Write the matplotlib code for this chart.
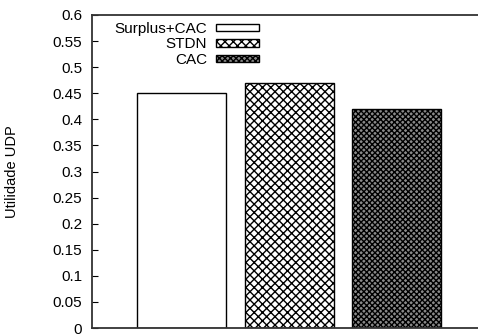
import numpy as np
import matplotlib
matplotlib.use('Agg')
import matplotlib.pyplot as plt

plt.rcParams['font.family'] = ['Liberation Sans', 'DejaVu Sans']
plt.rcParams['hatch.linewidth'] = 1.0

labels = ["Surplus+CAC", "STDN", "CAC"]
values = [0.45, 0.47, 0.42]
hatches = ["", "xxxx", "xxxxxx"]
faces = ["white", "white", "#8a8a8a"]

fig = plt.figure(figsize=(4.78, 3.36), dpi=100)
ax = fig.add_axes([92 / 478, 8 / 336, 1.0 - 92 / 478 + 0.01, 313 / 336])

x = np.arange(len(values))
for i in range(len(values)):
    ax.bar(x[i], values[i], 0.83, color=faces[i], edgecolor="black",
           hatch=hatches[i], linewidth=1.0, label=labels[i])

ax.set_xlim(-0.833, 2.80)
ax.set_ylim(0, 0.6)
ax.set_yticks(np.arange(0, 0.601, 0.05))
ax.set_yticklabels(["0", "0.05", "0.1", "0.15", "0.2", "0.25", "0.3", "0.35",
                    "0.4", "0.45", "0.5", "0.55", "0.6"])
ax.set_xticks([])
ax.tick_params(axis='y', direction='in', length=4, labelsize=11, pad=7)
for s in ax.spines.values():
    s.set_linewidth(1.3)
    s.set_color("#333333")

ax.set_ylabel("Utilidade UDP", fontsize=10.5)
ax.yaxis.set_label_coords(-(92 - 20) / 386, 0.5)

ax.legend(loc='upper right', bbox_to_anchor=(0.427, 0.978), frameon=False,
          markerfirst=False, fontsize=11, handlelength=2.8, handleheight=0.4,
          labelspacing=0.1, borderpad=0, borderaxespad=0, handletextpad=0.6)

fig.savefig("out.png", dpi=100)
